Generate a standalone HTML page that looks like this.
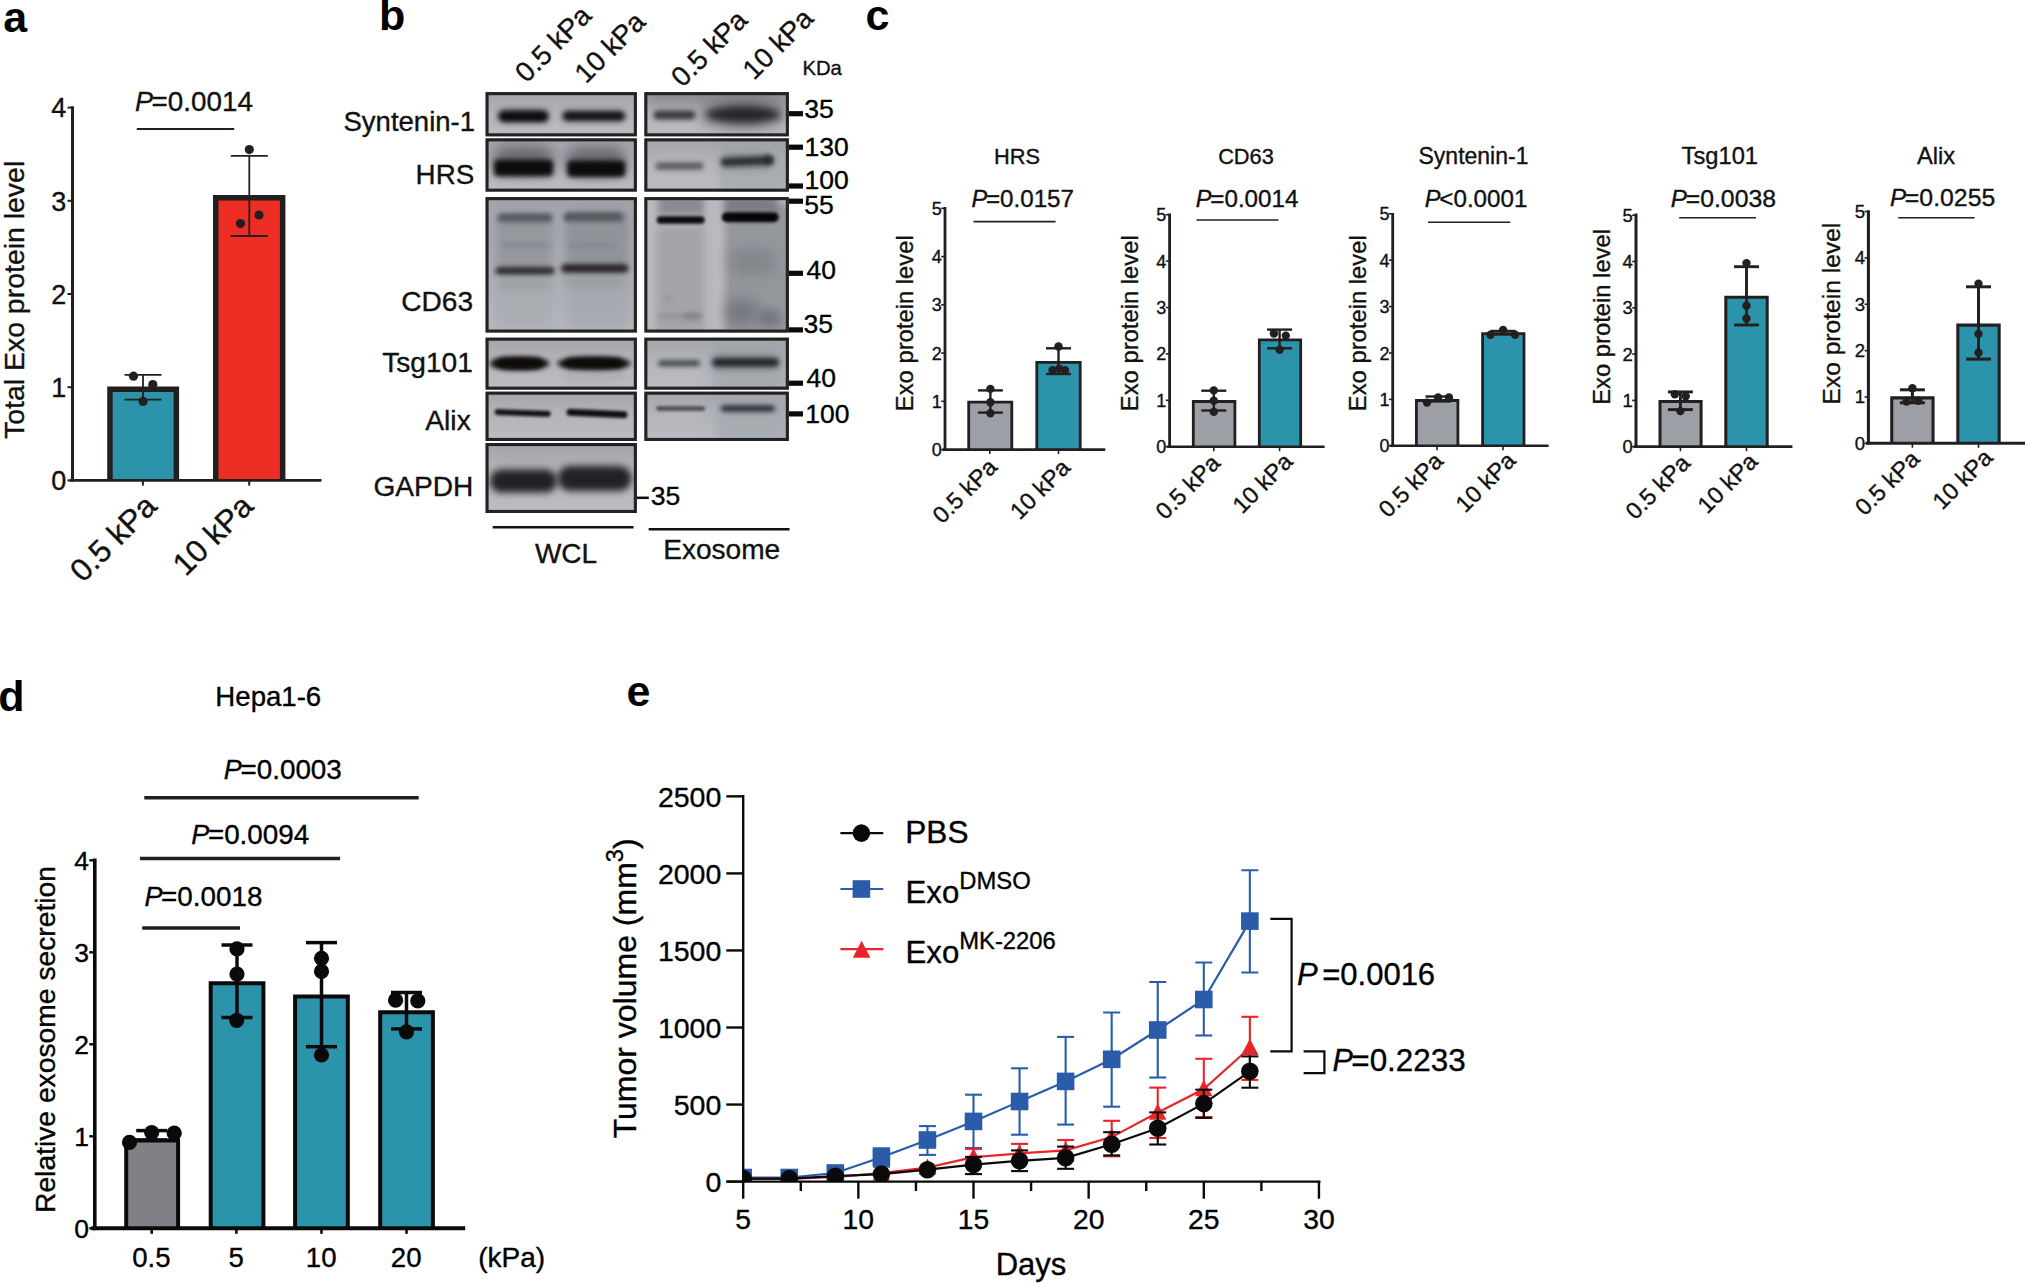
<!DOCTYPE html>
<html><head><meta charset="utf-8"><title>Figure</title>
<style>
html,body{margin:0;padding:0;background:#fff;}
body{width:2025px;height:1283px;overflow:hidden;}
svg{display:block;font-family:"Liberation Sans",sans-serif;}
</style></head><body>
<svg width="2025" height="1283" viewBox="0 0 2025 1283">
<rect width="2025" height="1283" fill="#fff"/>
<g id="pa">
<text x="3.2" y="31.5" font-size="43" text-anchor="start" fill="#000" font-weight="bold">a</text>
<path d="M109.95 480.4 V389.15 H176.35 V480.4" fill="#2b93aa" stroke="#231f20" stroke-width="5.5"/>
<path d="M215.75 480.4 V197.85 H282.65 V480.4" fill="#ee2e24" stroke="#231f20" stroke-width="5.5"/>
<line x1="72.5" y1="106.3" x2="72.5" y2="481.6" stroke="#231f20" stroke-width="3" stroke-linecap="butt"/>
<line x1="69.7" y1="480.4" x2="321.5" y2="480.4" stroke="#231f20" stroke-width="2.8" stroke-linecap="butt"/>
<line x1="67.5" y1="480.4" x2="72.5" y2="480.4" stroke="#231f20" stroke-width="2" stroke-linecap="butt"/>
<text x="66.3" y="490.1" font-size="27" text-anchor="end" fill="#111" stroke="#111" stroke-width="0.35">0</text>
<line x1="67.5" y1="387.2" x2="72.5" y2="387.2" stroke="#231f20" stroke-width="2" stroke-linecap="butt"/>
<text x="66.3" y="396.9" font-size="27" text-anchor="end" fill="#111" stroke="#111" stroke-width="0.35">1</text>
<line x1="67.5" y1="294" x2="72.5" y2="294" stroke="#231f20" stroke-width="2" stroke-linecap="butt"/>
<text x="66.3" y="303.7" font-size="27" text-anchor="end" fill="#111" stroke="#111" stroke-width="0.35">2</text>
<line x1="67.5" y1="200.8" x2="72.5" y2="200.8" stroke="#231f20" stroke-width="2" stroke-linecap="butt"/>
<text x="66.3" y="210.5" font-size="27" text-anchor="end" fill="#111" stroke="#111" stroke-width="0.35">3</text>
<line x1="67.5" y1="107.6" x2="72.5" y2="107.6" stroke="#231f20" stroke-width="2" stroke-linecap="butt"/>
<text x="66.3" y="117.3" font-size="27" text-anchor="end" fill="#111" stroke="#111" stroke-width="0.35">4</text>
<line x1="142.9" y1="480.4" x2="142.9" y2="485.6" stroke="#231f20" stroke-width="2" stroke-linecap="butt"/>
<line x1="249.2" y1="480.4" x2="249.2" y2="485.6" stroke="#231f20" stroke-width="2" stroke-linecap="butt"/>
<line x1="143" y1="374.8" x2="143" y2="399.7" stroke="#231f20" stroke-width="1.8" stroke-linecap="butt"/>
<line x1="124.5" y1="374.8" x2="161.5" y2="374.8" stroke="#231f20" stroke-width="1.8" stroke-linecap="butt"/>
<line x1="124.5" y1="399.7" x2="161.5" y2="399.7" stroke="#231f20" stroke-width="1.8" stroke-linecap="butt"/>
<line x1="249.3" y1="155.8" x2="249.3" y2="236" stroke="#231f20" stroke-width="1.8" stroke-linecap="butt"/>
<line x1="230.8" y1="155.8" x2="267.8" y2="155.8" stroke="#231f20" stroke-width="1.8" stroke-linecap="butt"/>
<line x1="230.8" y1="236" x2="267.8" y2="236" stroke="#231f20" stroke-width="1.8" stroke-linecap="butt"/>
<circle cx="133.5" cy="376.2" r="4.6" fill="#231f20"/>
<circle cx="152.8" cy="384.6" r="4.6" fill="#231f20"/>
<circle cx="143" cy="401.4" r="4.6" fill="#231f20"/>
<circle cx="249.3" cy="149.6" r="4.6" fill="#231f20"/>
<circle cx="259" cy="215" r="4.6" fill="#231f20"/>
<circle cx="240.5" cy="223.5" r="4.6" fill="#231f20"/>
<text x="136.3" y="110.8" font-size="27" text-anchor="start" fill="#111" stroke="#111" stroke-width="0.35"><tspan font-style="italic" dx="-0.05em" letter-spacing="-0.05em">P</tspan><tspan font-size="103%">=0.0014</tspan></text>
<line x1="136.8" y1="129" x2="234.2" y2="129" stroke="#231f20" stroke-width="2" stroke-linecap="butt"/>
<text x="23.8" y="299.9" font-size="28.45" text-anchor="middle" fill="#111" stroke="#111" stroke-width="0.35" transform="rotate(-90 23.8 299.9)">Total Exo protein level</text>
<text x="158.5" y="508" font-size="31.5" text-anchor="end" fill="#111" stroke="#111" stroke-width="0.35" transform="rotate(-45 158.5 508)">0.5 kPa</text>
<text x="255" y="508" font-size="31.5" text-anchor="end" fill="#111" stroke="#111" stroke-width="0.35" transform="rotate(-45 255 508)">10 kPa</text>
</g>
<g id="pb">
<defs>
<filter id="bl1" x="-30%" y="-200%" width="160%" height="500%" color-interpolation-filters="sRGB"><feGaussianBlur stdDeviation="1.5"/></filter>
<filter id="bl2" x="-30%" y="-200%" width="160%" height="500%" color-interpolation-filters="sRGB"><feGaussianBlur stdDeviation="2.4"/></filter>
<filter id="bl3" x="-40%" y="-200%" width="180%" height="500%" color-interpolation-filters="sRGB"><feGaussianBlur stdDeviation="3.8"/></filter>
<filter id="bl6" x="-50%" y="-200%" width="200%" height="500%" color-interpolation-filters="sRGB"><feGaussianBlur stdDeviation="7"/></filter>
<linearGradient id="bgv" x1="0" y1="0" x2="0" y2="1"><stop offset="0" stop-color="#a2a4aa"/><stop offset="0.45" stop-color="#b4b5bb"/><stop offset="1" stop-color="#bcbdc3"/></linearGradient>
<linearGradient id="bg3" x1="0" y1="0" x2="0" y2="1"><stop offset="0" stop-color="#a3a6ab"/><stop offset="0.55" stop-color="#aeb1b6"/><stop offset="1" stop-color="#bcbfc4"/></linearGradient>
</defs>
<text x="379" y="30.3" font-size="43" text-anchor="start" fill="#000" font-weight="bold">b</text>
<clipPath id="cp1"><rect x="485.5" y="92.1" width="151.4" height="44.3"/></clipPath>
<g clip-path="url(#cp1)">
<rect x="485.5" y="92.1" width="151.4" height="44.3" fill="url(#bgv)"/>
<rect x="497" y="108.8" width="53" height="14" rx="7" fill="#555" opacity="0.45" filter="url(#bl3)"/>
<rect x="498.5" y="110.45" width="50" height="11.5" rx="5.75" fill="#0c0b0d" opacity="1" filter="url(#bl2)"/>
<rect x="560.8" y="109.8" width="66" height="12" rx="6" fill="#555" opacity="0.4" filter="url(#bl3)"/>
<rect x="562.8" y="111.25" width="62" height="9.5" rx="4.75" fill="#121114" opacity="1" filter="url(#bl2)"/>
</g>
<rect x="487.05" y="93.65" width="148.3" height="41.2" fill="none" stroke="#232223" stroke-width="3.1"/>
<clipPath id="cp2"><rect x="644.3" y="92.1" width="144.6" height="44.3"/></clipPath>
<g clip-path="url(#cp2)">
<rect x="644.3" y="92.1" width="144.6" height="44.3" fill="url(#bgv)"/>
<rect x="653.4" y="110.5" width="42" height="9" rx="4.5" fill="#2a2a30" opacity="0.9" filter="url(#bl2)"/>
<rect x="644.3" y="86.1" width="144.6" height="17.9" fill="#6f7176" opacity="0.55" filter="url(#bl6)"/>
<ellipse cx="743" cy="114.5" rx="42" ry="13" fill="#45464c" opacity="0.7" filter="url(#bl6)"/>
<ellipse cx="743" cy="114.5" rx="37" ry="7.5" fill="#1b1b1f" opacity="0.85" filter="url(#bl3)"/>
</g>
<rect x="645.85" y="93.65" width="141.5" height="41.2" fill="none" stroke="#232223" stroke-width="3.1"/>
<clipPath id="cp3"><rect x="485.5" y="138.3" width="151.4" height="53.4"/></clipPath>
<g clip-path="url(#cp3)">
<rect x="485.5" y="138.3" width="151.4" height="53.4" fill="url(#bgv)"/>
<rect x="492.5" y="146" width="62" height="28" rx="14" fill="#4a4b51" opacity="0.7" filter="url(#bl6)"/>
<rect x="494" y="159.75" width="59" height="16.5" rx="4" fill="#0c0b0d" opacity="1" filter="url(#bl2)"/>
<rect x="565.2" y="147" width="62" height="28" rx="14" fill="#4a4b51" opacity="0.7" filter="url(#bl6)"/>
<rect x="567.2" y="160.55" width="58" height="16.5" rx="4" fill="#0c0b0d" opacity="1" filter="url(#bl2)"/>
</g>
<rect x="487.05" y="139.85" width="148.3" height="50.3" fill="none" stroke="#232223" stroke-width="3.1"/>
<clipPath id="cp4"><rect x="644.3" y="138.3" width="144.6" height="53.4"/></clipPath>
<g clip-path="url(#cp4)">
<rect x="644.3" y="138.3" width="144.6" height="53.4" fill="url(#bgv)"/>
<rect x="720" y="138.3" width="68.9" height="53.4" fill="#99a3a5" opacity="0.55" filter="url(#bl3)"/>
<rect x="655.5" y="162.5" width="48" height="7" rx="3.5" fill="#45454b" opacity="0.85" filter="url(#bl2)"/>
<rect x="720.3" y="154.5" width="52" height="14" rx="7" fill="#5a5f63" opacity="0.45" filter="url(#bl3)"/>
<rect x="721" y="157.2" width="53" height="8" rx="4" fill="#202024" opacity="0.9" filter="url(#bl2)" transform="rotate(-2.5 747.5 161.2)"/>
<ellipse cx="768" cy="160" rx="4" ry="5" fill="#1d1d21" opacity="0.6" filter="url(#bl2)"/>
</g>
<rect x="645.85" y="139.85" width="141.5" height="50.3" fill="none" stroke="#232223" stroke-width="3.1"/>
<clipPath id="cp5"><rect x="485.5" y="197.1" width="151.4" height="135.5"/></clipPath>
<g clip-path="url(#cp5)">
<rect x="485.5" y="197.1" width="151.4" height="135.5" fill="url(#bg3)"/>
<rect x="492" y="197.1" width="63" height="135.5" fill="#9da0a6" opacity="0.5" filter="url(#bl6)"/>
<rect x="565" y="197.1" width="67" height="135.5" fill="#9a9da3" opacity="0.55" filter="url(#bl6)"/>
<rect x="498" y="214.1" width="54" height="8" rx="4" fill="#33383d" opacity="0.9" filter="url(#bl2)"/>
<rect x="564.3" y="212.95" width="59" height="8.5" rx="4.25" fill="#2c3136" opacity="0.93" filter="url(#bl2)"/>
<rect x="501" y="242.8" width="48" height="5" rx="2.5" fill="#7d8086" opacity="0.6" filter="url(#bl2)"/>
<rect x="568" y="242.8" width="48" height="5" rx="2.5" fill="#7d8086" opacity="0.5" filter="url(#bl2)"/>
<rect x="497" y="214" width="55" height="60" fill="#80848a" opacity="0.4" filter="url(#bl3)"/>
<rect x="566" y="212" width="62" height="60" fill="#7c8086" opacity="0.45" filter="url(#bl3)"/>
<rect x="495.5" y="267.3" width="59" height="7" rx="3.5" fill="#231e21" opacity="0.95" filter="url(#bl2)"/>
<rect x="561.1" y="264.3" width="67" height="8.2" rx="4.1" fill="#201b1e" opacity="0.96" filter="url(#bl2)"/>
<rect x="500" y="280" width="50" height="8" rx="4" fill="#8d9096" opacity="0.45" filter="url(#bl3)"/>
<rect x="565" y="278" width="58" height="8" rx="4" fill="#8d9096" opacity="0.45" filter="url(#bl3)"/>
</g>
<rect x="487.05" y="198.65" width="148.3" height="132.4" fill="none" stroke="#232223" stroke-width="3.1"/>
<clipPath id="cp6"><rect x="644.3" y="197.1" width="144.6" height="135.5"/></clipPath>
<g clip-path="url(#cp6)">
<rect x="644.3" y="197.1" width="144.6" height="135.5" fill="#b9babf"/>
<rect x="656" y="226" width="49" height="114.6" fill="#8e8f95" opacity="0.48" filter="url(#bl3)"/>
<rect x="725" y="205" width="67" height="135.6" fill="#7f8287" opacity="0.62" filter="url(#bl3)"/>
<rect x="658" y="193.1" width="46" height="21.9" fill="#77787e" opacity="0.7" filter="url(#bl3)"/>
<rect x="724" y="193.1" width="54" height="18.9" fill="#6a6b70" opacity="0.7" filter="url(#bl3)"/>
<rect x="656.7" y="216.25" width="48" height="7.5" rx="3.75" fill="#0c0b0d" opacity="1" filter="url(#bl1)"/>
<rect x="721.7" y="212.2" width="57" height="10" rx="5" fill="#060607" opacity="1" filter="url(#bl1)"/>
<ellipse cx="752" cy="262" rx="24" ry="14" fill="#6d7075" opacity="0.45" filter="url(#bl6)"/>
<ellipse cx="742" cy="312" rx="18" ry="14" fill="#5f6267" opacity="0.55" filter="url(#bl6)"/>
<ellipse cx="770" cy="318" rx="12" ry="10" fill="#5f6267" opacity="0.5" filter="url(#bl3)"/>
<rect x="658" y="313.65" width="44" height="5.5" rx="2.75" fill="#8a8b91" opacity="0.6" filter="url(#bl2)"/>
<ellipse cx="692" cy="316" rx="9" ry="4" fill="#77787e" opacity="0.6" filter="url(#bl2)"/>
<ellipse cx="668" cy="298" rx="4" ry="3" fill="#8a8b90" opacity="0.6" filter="url(#bl2)"/>
</g>
<rect x="645.85" y="198.65" width="141.5" height="132.4" fill="none" stroke="#232223" stroke-width="3.1"/>
<clipPath id="cp7"><rect x="485.5" y="337.6" width="151.4" height="52.1"/></clipPath>
<g clip-path="url(#cp7)">
<rect x="485.5" y="337.6" width="151.4" height="52.1" fill="url(#bgv)"/>
<ellipse cx="519.5" cy="363.4" rx="30" ry="6.6" fill="#0f0b0b" opacity="1" filter="url(#bl2)"/>
<rect x="496.5" y="358.4" width="46" height="10" rx="5" fill="#0f0b0b" opacity="1" filter="url(#bl2)"/>
<ellipse cx="594" cy="363.4" rx="37" ry="6.6" fill="#0f0b0b" opacity="1" filter="url(#bl2)"/>
<rect x="565" y="358.4" width="58" height="10" rx="5" fill="#0f0b0b" opacity="1" filter="url(#bl2)"/>
<rect x="564" y="372" width="60" height="8" rx="4" fill="#9ea4a8" opacity="0.5" filter="url(#bl3)"/>
</g>
<rect x="487.05" y="339.15" width="148.3" height="49" fill="none" stroke="#232223" stroke-width="3.1"/>
<clipPath id="cp8"><rect x="644.3" y="337.6" width="144.6" height="52.1"/></clipPath>
<g clip-path="url(#cp8)">
<rect x="644.3" y="337.6" width="144.6" height="52.1" fill="url(#bgv)"/>
<rect x="712" y="345" width="76.9" height="50.7" fill="#98a0a3" opacity="0.6" filter="url(#bl6)"/>
<rect x="658.1" y="360.45" width="42" height="5.5" rx="2.75" fill="#33373b" opacity="0.95" filter="url(#bl2)"/>
<rect x="711.5" y="355.4" width="68" height="14" rx="7" fill="#5a5f63" opacity="0.5" filter="url(#bl3)"/>
<rect x="712.5" y="358.5" width="66" height="7.8" rx="3.9" fill="#1d2024" opacity="1" filter="url(#bl2)"/>
</g>
<rect x="645.85" y="339.15" width="141.5" height="49" fill="none" stroke="#232223" stroke-width="3.1"/>
<clipPath id="cp9"><rect x="485.5" y="391.6" width="151.4" height="49.4"/></clipPath>
<g clip-path="url(#cp9)">
<rect x="485.5" y="391.6" width="151.4" height="49.4" fill="url(#bgv)"/>
<rect x="494.7" y="410" width="56" height="6" rx="3" fill="#131316" opacity="1" filter="url(#bl1)" transform="rotate(2 522.7 413)"/>
<rect x="566.5" y="410" width="61" height="7" rx="3.5" fill="#101013" opacity="1" filter="url(#bl1)" transform="rotate(2.5 597 413.5)"/>
</g>
<rect x="487.05" y="393.15" width="148.3" height="46.3" fill="none" stroke="#232223" stroke-width="3.1"/>
<clipPath id="cp10"><rect x="644.3" y="391.6" width="144.6" height="49.4"/></clipPath>
<g clip-path="url(#cp10)">
<rect x="644.3" y="391.6" width="144.6" height="49.4" fill="url(#bgv)"/>
<rect x="716" y="400" width="72.9" height="47" fill="#9ba4a7" opacity="0.6" filter="url(#bl6)"/>
<rect x="656.2" y="406.25" width="49" height="4.5" rx="2.25" fill="#3d4045" opacity="0.9" filter="url(#bl1)"/>
<rect x="720.9" y="405.4" width="54" height="6" rx="3" fill="#20242a" opacity="1" filter="url(#bl2)"/>
</g>
<rect x="645.85" y="393.15" width="141.5" height="46.3" fill="none" stroke="#232223" stroke-width="3.1"/>
<clipPath id="cp11"><rect x="485.5" y="443" width="151.4" height="70"/></clipPath>
<g clip-path="url(#cp11)">
<rect x="485.5" y="443" width="151.4" height="70" fill="url(#bgv)"/>
<rect x="490" y="469.5" width="67" height="23" rx="11.5" fill="#1c1d21" opacity="0.97" filter="url(#bl3)"/>
<rect x="557.6" y="466" width="74" height="25" rx="12.5" fill="#1c1d21" opacity="0.97" filter="url(#bl3)"/>
</g>
<rect x="487.05" y="444.55" width="148.3" height="66.9" fill="none" stroke="#232223" stroke-width="3.1"/>
<line x1="492.7" y1="527.2" x2="633.5" y2="527.2" stroke="#111" stroke-width="2.6" stroke-linecap="butt"/>
<line x1="648.7" y1="529.3" x2="789.5" y2="529.3" stroke="#111" stroke-width="2.6" stroke-linecap="butt"/>
<text x="566" y="562.7" font-size="28" text-anchor="middle" fill="#111" stroke="#111" stroke-width="0.35">WCL</text>
<text x="721.7" y="558.7" font-size="28.1" text-anchor="middle" fill="#111" stroke="#111" stroke-width="0.35">Exosome</text>
<text x="475" y="130.7" font-size="27.5" text-anchor="end" fill="#111" stroke="#111" stroke-width="0.35">Syntenin-1</text>
<text x="474.3" y="184" font-size="27.8" text-anchor="end" fill="#111" stroke="#111" stroke-width="0.35">HRS</text>
<text x="473.1" y="310.7" font-size="28.1" text-anchor="end" fill="#111" stroke="#111" stroke-width="0.35">CD63</text>
<text x="472.8" y="372" font-size="28.1" text-anchor="end" fill="#111" stroke="#111" stroke-width="0.35">Tsg101</text>
<text x="470.8" y="430.1" font-size="28.3" text-anchor="end" fill="#111" stroke="#111" stroke-width="0.35">Alix</text>
<text x="473.3" y="496" font-size="28.1" text-anchor="end" fill="#111" stroke="#111" stroke-width="0.35">GAPDH</text>
<text x="593" y="17.3" font-size="27.7" text-anchor="end" fill="#111" stroke="#111" stroke-width="0.35" transform="rotate(-45 593 17.3)">0.5 kPa</text>
<text x="647" y="23.5" font-size="27.7" text-anchor="end" fill="#111" stroke="#111" stroke-width="0.35" transform="rotate(-45 647 23.5)">10 kPa</text>
<text x="749" y="21.8" font-size="27.7" text-anchor="end" fill="#111" stroke="#111" stroke-width="0.35" transform="rotate(-45 749 21.8)">0.5 kPa</text>
<text x="815" y="20" font-size="27.7" text-anchor="end" fill="#111" stroke="#111" stroke-width="0.35" transform="rotate(-45 815 20)">10 kPa</text>
<text x="802.4" y="74.6" font-size="20.3" text-anchor="start" fill="#111" stroke="#111" stroke-width="0.35">KDa</text>
<line x1="789" y1="113.7" x2="803" y2="113.7" stroke="#0a0a0a" stroke-width="5.2" stroke-linecap="butt"/>
<text x="804.3" y="118.2" font-size="26.5" text-anchor="start" fill="#000" stroke="#000" stroke-width="0.35">35</text>
<line x1="789" y1="147.2" x2="803" y2="147.2" stroke="#0a0a0a" stroke-width="5.2" stroke-linecap="butt"/>
<text x="804.6" y="156" font-size="26.5" text-anchor="start" fill="#000" stroke="#000" stroke-width="0.35">130</text>
<line x1="789" y1="186" x2="803" y2="186" stroke="#0a0a0a" stroke-width="5.2" stroke-linecap="butt"/>
<text x="804.6" y="189.1" font-size="26.5" text-anchor="start" fill="#000" stroke="#000" stroke-width="0.35">100</text>
<line x1="789" y1="201.2" x2="803" y2="201.2" stroke="#0a0a0a" stroke-width="5.2" stroke-linecap="butt"/>
<text x="804.3" y="214.1" font-size="26.5" text-anchor="start" fill="#000" stroke="#000" stroke-width="0.35">55</text>
<line x1="789" y1="273.3" x2="803" y2="273.3" stroke="#0a0a0a" stroke-width="5.2" stroke-linecap="butt"/>
<text x="806.6" y="278.7" font-size="26.5" text-anchor="start" fill="#000" stroke="#000" stroke-width="0.35">40</text>
<line x1="789" y1="329.9" x2="803" y2="329.9" stroke="#0a0a0a" stroke-width="5.2" stroke-linecap="butt"/>
<text x="803.6" y="333.3" font-size="26.5" text-anchor="start" fill="#000" stroke="#000" stroke-width="0.35">35</text>
<line x1="789" y1="383.2" x2="803" y2="383.2" stroke="#0a0a0a" stroke-width="5.2" stroke-linecap="butt"/>
<text x="806.6" y="386.7" font-size="26.5" text-anchor="start" fill="#000" stroke="#000" stroke-width="0.35">40</text>
<line x1="789" y1="413.9" x2="803" y2="413.9" stroke="#0a0a0a" stroke-width="5.2" stroke-linecap="butt"/>
<text x="805.2" y="422.7" font-size="26.5" text-anchor="start" fill="#000" stroke="#000" stroke-width="0.35">100</text>
<line x1="636.9" y1="497.8" x2="648.8" y2="497.8" stroke="#0a0a0a" stroke-width="2.5" stroke-linecap="butt"/>
<text x="650.7" y="504.6" font-size="26.5" text-anchor="start" fill="#000" stroke="#000" stroke-width="0.35">35</text>
</g>
<g id="pc">
<text x="865.5" y="29.6" font-size="43" text-anchor="start" fill="#000" font-weight="bold">c</text>
<path d="M968.7 449.6 V402.1 H1011.8 V449.6" fill="#9d9fa7" stroke="#231f20" stroke-width="2.8"/>
<path d="M1036.8 449.6 V362.4 H1080.2 V449.6" fill="#2b93aa" stroke="#231f20" stroke-width="2.8"/>
<line x1="945" y1="207" x2="945" y2="450.9" stroke="#231f20" stroke-width="2.8" stroke-linecap="butt"/>
<line x1="942.5" y1="449.6" x2="1105.3" y2="449.6" stroke="#231f20" stroke-width="2.6" stroke-linecap="butt"/>
<line x1="941.2" y1="449.6" x2="945" y2="449.6" stroke="#231f20" stroke-width="1.6" stroke-linecap="butt"/>
<text x="941.7" y="456.1" font-size="18" text-anchor="end" fill="#111" stroke="#111" stroke-width="0.35">0</text>
<line x1="941.2" y1="401.35" x2="945" y2="401.35" stroke="#231f20" stroke-width="1.6" stroke-linecap="butt"/>
<text x="941.7" y="407.85" font-size="18" text-anchor="end" fill="#111" stroke="#111" stroke-width="0.35">1</text>
<line x1="941.2" y1="353.1" x2="945" y2="353.1" stroke="#231f20" stroke-width="1.6" stroke-linecap="butt"/>
<text x="941.7" y="359.6" font-size="18" text-anchor="end" fill="#111" stroke="#111" stroke-width="0.35">2</text>
<line x1="941.2" y1="304.85" x2="945" y2="304.85" stroke="#231f20" stroke-width="1.6" stroke-linecap="butt"/>
<text x="941.7" y="311.35" font-size="18" text-anchor="end" fill="#111" stroke="#111" stroke-width="0.35">3</text>
<line x1="941.2" y1="256.6" x2="945" y2="256.6" stroke="#231f20" stroke-width="1.6" stroke-linecap="butt"/>
<text x="941.7" y="263.1" font-size="18" text-anchor="end" fill="#111" stroke="#111" stroke-width="0.35">4</text>
<line x1="941.2" y1="208.35" x2="945" y2="208.35" stroke="#231f20" stroke-width="1.6" stroke-linecap="butt"/>
<text x="941.7" y="214.85" font-size="18" text-anchor="end" fill="#111" stroke="#111" stroke-width="0.35">5</text>
<line x1="989.8" y1="449.6" x2="989.8" y2="454.1" stroke="#231f20" stroke-width="1.6" stroke-linecap="butt"/>
<line x1="1058.5" y1="449.6" x2="1058.5" y2="454.1" stroke="#231f20" stroke-width="1.6" stroke-linecap="butt"/>
<line x1="990.4" y1="390.4" x2="990.4" y2="412.6" stroke="#231f20" stroke-width="2.4" stroke-linecap="butt"/>
<line x1="977.9" y1="390.4" x2="1002.9" y2="390.4" stroke="#231f20" stroke-width="2.4" stroke-linecap="butt"/>
<line x1="977.9" y1="412.6" x2="1002.9" y2="412.6" stroke="#231f20" stroke-width="2.4" stroke-linecap="butt"/>
<line x1="1058.5" y1="348.3" x2="1058.5" y2="374" stroke="#231f20" stroke-width="2.4" stroke-linecap="butt"/>
<line x1="1046" y1="348.3" x2="1071" y2="348.3" stroke="#231f20" stroke-width="2.4" stroke-linecap="butt"/>
<line x1="1046" y1="374" x2="1071" y2="374" stroke="#231f20" stroke-width="2.4" stroke-linecap="butt"/>
<circle cx="990.4" cy="388.9" r="4.2" fill="#231f20"/>
<circle cx="990.4" cy="402.2" r="4.2" fill="#231f20"/>
<circle cx="990.4" cy="413.2" r="4.2" fill="#231f20"/>
<circle cx="1058.5" cy="346.5" r="4.2" fill="#231f20"/>
<circle cx="1052.6" cy="370.2" r="4.2" fill="#231f20"/>
<circle cx="1059.1" cy="368.7" r="4.2" fill="#231f20"/>
<circle cx="1065" cy="370.2" r="4.2" fill="#231f20"/>
<text x="1017" y="164.4" font-size="21.8" text-anchor="middle" fill="#111" stroke="#111" stroke-width="0.35">HRS</text>
<text x="972.6" y="206.5" font-size="23.5" text-anchor="start" fill="#111" stroke="#111" stroke-width="0.35"><tspan font-style="italic" dx="-0.05em" letter-spacing="-0.05em">P</tspan><tspan font-size="103%">=0.0157</tspan></text>
<line x1="973.5" y1="221.6" x2="1055.6" y2="221.6" stroke="#231f20" stroke-width="1.6" stroke-linecap="butt"/>
<text x="913.3" y="323.2" font-size="23.8" text-anchor="middle" fill="#111" stroke="#111" stroke-width="0.35" transform="rotate(-90 913.3 323.2)">Exo protein level</text>
<text x="998.5" y="468.5" font-size="23.5" text-anchor="end" fill="#111" stroke="#111" stroke-width="0.35" transform="rotate(-45 998.5 468.5)">0.5 kPa</text>
<text x="1071.5" y="469" font-size="23.5" text-anchor="end" fill="#111" stroke="#111" stroke-width="0.35" transform="rotate(-45 1071.5 469)">10 kPa</text>
<path d="M1193.3 446.7 V401.5 H1234.9 V446.7" fill="#9d9fa7" stroke="#231f20" stroke-width="2.8"/>
<path d="M1259.3 446.7 V339.9 H1300.7 V446.7" fill="#2b93aa" stroke="#231f20" stroke-width="2.8"/>
<line x1="1169.6" y1="213.5" x2="1169.6" y2="448" stroke="#231f20" stroke-width="2.8" stroke-linecap="butt"/>
<line x1="1167.1" y1="446.7" x2="1324.6" y2="446.7" stroke="#231f20" stroke-width="2.6" stroke-linecap="butt"/>
<line x1="1165.8" y1="446.7" x2="1169.6" y2="446.7" stroke="#231f20" stroke-width="1.6" stroke-linecap="butt"/>
<text x="1166.3" y="453.2" font-size="18" text-anchor="end" fill="#111" stroke="#111" stroke-width="0.35">0</text>
<line x1="1165.8" y1="400.3" x2="1169.6" y2="400.3" stroke="#231f20" stroke-width="1.6" stroke-linecap="butt"/>
<text x="1166.3" y="406.8" font-size="18" text-anchor="end" fill="#111" stroke="#111" stroke-width="0.35">1</text>
<line x1="1165.8" y1="353.9" x2="1169.6" y2="353.9" stroke="#231f20" stroke-width="1.6" stroke-linecap="butt"/>
<text x="1166.3" y="360.4" font-size="18" text-anchor="end" fill="#111" stroke="#111" stroke-width="0.35">2</text>
<line x1="1165.8" y1="307.5" x2="1169.6" y2="307.5" stroke="#231f20" stroke-width="1.6" stroke-linecap="butt"/>
<text x="1166.3" y="314" font-size="18" text-anchor="end" fill="#111" stroke="#111" stroke-width="0.35">3</text>
<line x1="1165.8" y1="261.1" x2="1169.6" y2="261.1" stroke="#231f20" stroke-width="1.6" stroke-linecap="butt"/>
<text x="1166.3" y="267.6" font-size="18" text-anchor="end" fill="#111" stroke="#111" stroke-width="0.35">4</text>
<line x1="1165.8" y1="214.7" x2="1169.6" y2="214.7" stroke="#231f20" stroke-width="1.6" stroke-linecap="butt"/>
<text x="1166.3" y="221.2" font-size="18" text-anchor="end" fill="#111" stroke="#111" stroke-width="0.35">5</text>
<line x1="1213.8" y1="446.7" x2="1213.8" y2="451.2" stroke="#231f20" stroke-width="1.6" stroke-linecap="butt"/>
<line x1="1279.6" y1="446.7" x2="1279.6" y2="451.2" stroke="#231f20" stroke-width="1.6" stroke-linecap="butt"/>
<line x1="1213.8" y1="390.7" x2="1213.8" y2="410.5" stroke="#231f20" stroke-width="2.4" stroke-linecap="butt"/>
<line x1="1201.3" y1="390.7" x2="1226.3" y2="390.7" stroke="#231f20" stroke-width="2.4" stroke-linecap="butt"/>
<line x1="1201.3" y1="410.5" x2="1226.3" y2="410.5" stroke="#231f20" stroke-width="2.4" stroke-linecap="butt"/>
<line x1="1279.6" y1="329.6" x2="1279.6" y2="348.3" stroke="#231f20" stroke-width="2.4" stroke-linecap="butt"/>
<line x1="1267.1" y1="329.6" x2="1292.1" y2="329.6" stroke="#231f20" stroke-width="2.4" stroke-linecap="butt"/>
<line x1="1267.1" y1="348.3" x2="1292.1" y2="348.3" stroke="#231f20" stroke-width="2.4" stroke-linecap="butt"/>
<circle cx="1213.8" cy="390.4" r="4.2" fill="#231f20"/>
<circle cx="1213.8" cy="400.7" r="4.2" fill="#231f20"/>
<circle cx="1213.8" cy="411.7" r="4.2" fill="#231f20"/>
<circle cx="1273.9" cy="333.5" r="4.2" fill="#231f20"/>
<circle cx="1285.8" cy="335.6" r="4.2" fill="#231f20"/>
<circle cx="1279.6" cy="349.8" r="4.2" fill="#231f20"/>
<text x="1246" y="164.4" font-size="21.8" text-anchor="middle" fill="#111" stroke="#111" stroke-width="0.35">CD63</text>
<text x="1197" y="206.5" font-size="23.5" text-anchor="start" fill="#111" stroke="#111" stroke-width="0.35"><tspan font-style="italic" dx="-0.05em" letter-spacing="-0.05em">P</tspan><tspan font-size="103%">=0.0014</tspan></text>
<line x1="1196.5" y1="220" x2="1278.5" y2="220" stroke="#231f20" stroke-width="1.6" stroke-linecap="butt"/>
<text x="1138" y="323.2" font-size="23.8" text-anchor="middle" fill="#111" stroke="#111" stroke-width="0.35" transform="rotate(-90 1138 323.2)">Exo protein level</text>
<text x="1221.5" y="464.5" font-size="23.5" text-anchor="end" fill="#111" stroke="#111" stroke-width="0.35" transform="rotate(-45 1221.5 464.5)">0.5 kPa</text>
<text x="1294" y="463" font-size="23.5" text-anchor="end" fill="#111" stroke="#111" stroke-width="0.35" transform="rotate(-45 1294 463)">10 kPa</text>
<path d="M1416.4 445.8 V400.5 H1457.9 V445.8" fill="#9d9fa7" stroke="#231f20" stroke-width="2.8"/>
<path d="M1482.6 445.8 V333.7 H1524 V445.8" fill="#2b93aa" stroke="#231f20" stroke-width="2.8"/>
<line x1="1392.7" y1="213" x2="1392.7" y2="447.1" stroke="#231f20" stroke-width="2.8" stroke-linecap="butt"/>
<line x1="1390.2" y1="445.8" x2="1548.6" y2="445.8" stroke="#231f20" stroke-width="2.6" stroke-linecap="butt"/>
<line x1="1388.9" y1="445.8" x2="1392.7" y2="445.8" stroke="#231f20" stroke-width="1.6" stroke-linecap="butt"/>
<text x="1389.4" y="452.3" font-size="18" text-anchor="end" fill="#111" stroke="#111" stroke-width="0.35">0</text>
<line x1="1388.9" y1="399.4" x2="1392.7" y2="399.4" stroke="#231f20" stroke-width="1.6" stroke-linecap="butt"/>
<text x="1389.4" y="405.9" font-size="18" text-anchor="end" fill="#111" stroke="#111" stroke-width="0.35">1</text>
<line x1="1388.9" y1="353" x2="1392.7" y2="353" stroke="#231f20" stroke-width="1.6" stroke-linecap="butt"/>
<text x="1389.4" y="359.5" font-size="18" text-anchor="end" fill="#111" stroke="#111" stroke-width="0.35">2</text>
<line x1="1388.9" y1="306.6" x2="1392.7" y2="306.6" stroke="#231f20" stroke-width="1.6" stroke-linecap="butt"/>
<text x="1389.4" y="313.1" font-size="18" text-anchor="end" fill="#111" stroke="#111" stroke-width="0.35">3</text>
<line x1="1388.9" y1="260.2" x2="1392.7" y2="260.2" stroke="#231f20" stroke-width="1.6" stroke-linecap="butt"/>
<text x="1389.4" y="266.7" font-size="18" text-anchor="end" fill="#111" stroke="#111" stroke-width="0.35">4</text>
<line x1="1388.9" y1="213.8" x2="1392.7" y2="213.8" stroke="#231f20" stroke-width="1.6" stroke-linecap="butt"/>
<text x="1389.4" y="220.3" font-size="18" text-anchor="end" fill="#111" stroke="#111" stroke-width="0.35">5</text>
<line x1="1437" y1="445.8" x2="1437" y2="450.3" stroke="#231f20" stroke-width="1.6" stroke-linecap="butt"/>
<line x1="1503" y1="445.8" x2="1503" y2="450.3" stroke="#231f20" stroke-width="1.6" stroke-linecap="butt"/>
<line x1="1438" y1="396.5" x2="1438" y2="401.5" stroke="#231f20" stroke-width="2.4" stroke-linecap="butt"/>
<line x1="1425.5" y1="396.5" x2="1450.5" y2="396.5" stroke="#231f20" stroke-width="2.4" stroke-linecap="butt"/>
<line x1="1425.5" y1="401.5" x2="1450.5" y2="401.5" stroke="#231f20" stroke-width="2.4" stroke-linecap="butt"/>
<line x1="1503" y1="331" x2="1503" y2="334.5" stroke="#231f20" stroke-width="2.4" stroke-linecap="butt"/>
<line x1="1490.5" y1="331" x2="1515.5" y2="331" stroke="#231f20" stroke-width="2.4" stroke-linecap="butt"/>
<line x1="1490.5" y1="334.5" x2="1515.5" y2="334.5" stroke="#231f20" stroke-width="2.4" stroke-linecap="butt"/>
<circle cx="1427" cy="402.6" r="4.2" fill="#231f20"/>
<circle cx="1438" cy="397.4" r="4.2" fill="#231f20"/>
<circle cx="1449" cy="397.4" r="4.2" fill="#231f20"/>
<circle cx="1490.5" cy="334.7" r="4.2" fill="#231f20"/>
<circle cx="1503.1" cy="329.9" r="4.2" fill="#231f20"/>
<circle cx="1515.1" cy="334.7" r="4.2" fill="#231f20"/>
<text x="1473.5" y="164.4" font-size="23" text-anchor="middle" fill="#111" stroke="#111" stroke-width="0.35">Syntenin-1</text>
<text x="1426" y="206.5" font-size="23.5" text-anchor="start" fill="#111" stroke="#111" stroke-width="0.35"><tspan font-style="italic" dx="-0.05em" letter-spacing="-0.05em">P</tspan><tspan font-size="103%">&lt;0.0001</tspan></text>
<line x1="1428" y1="222.2" x2="1510.3" y2="222.2" stroke="#231f20" stroke-width="1.6" stroke-linecap="butt"/>
<text x="1366" y="323.2" font-size="23.8" text-anchor="middle" fill="#111" stroke="#111" stroke-width="0.35" transform="rotate(-90 1366 323.2)">Exo protein level</text>
<text x="1444.5" y="462.5" font-size="23.5" text-anchor="end" fill="#111" stroke="#111" stroke-width="0.35" transform="rotate(-45 1444.5 462.5)">0.5 kPa</text>
<text x="1517" y="462" font-size="23.5" text-anchor="end" fill="#111" stroke="#111" stroke-width="0.35" transform="rotate(-45 1517 462)">10 kPa</text>
<path d="M1660.01 446.7 V401.61 H1701.09 V446.7" fill="#9d9fa7" stroke="#231f20" stroke-width="3.02"/>
<path d="M1725.81 446.7 V297.21 H1767.19 V446.7" fill="#2b93aa" stroke="#231f20" stroke-width="3.02"/>
<line x1="1636" y1="213.5" x2="1636" y2="448" stroke="#231f20" stroke-width="3.02" stroke-linecap="butt"/>
<line x1="1633.5" y1="446.7" x2="1792.4" y2="446.7" stroke="#231f20" stroke-width="2.81" stroke-linecap="butt"/>
<line x1="1632.2" y1="446.7" x2="1636" y2="446.7" stroke="#231f20" stroke-width="1.6" stroke-linecap="butt"/>
<text x="1632.7" y="453.2" font-size="18.48" text-anchor="end" fill="#111" stroke="#111" stroke-width="0.35">0</text>
<line x1="1632.2" y1="400.4" x2="1636" y2="400.4" stroke="#231f20" stroke-width="1.6" stroke-linecap="butt"/>
<text x="1632.7" y="406.9" font-size="18.48" text-anchor="end" fill="#111" stroke="#111" stroke-width="0.35">1</text>
<line x1="1632.2" y1="354.1" x2="1636" y2="354.1" stroke="#231f20" stroke-width="1.6" stroke-linecap="butt"/>
<text x="1632.7" y="360.6" font-size="18.48" text-anchor="end" fill="#111" stroke="#111" stroke-width="0.35">2</text>
<line x1="1632.2" y1="307.8" x2="1636" y2="307.8" stroke="#231f20" stroke-width="1.6" stroke-linecap="butt"/>
<text x="1632.7" y="314.3" font-size="18.48" text-anchor="end" fill="#111" stroke="#111" stroke-width="0.35">3</text>
<line x1="1632.2" y1="261.5" x2="1636" y2="261.5" stroke="#231f20" stroke-width="1.6" stroke-linecap="butt"/>
<text x="1632.7" y="268" font-size="18.48" text-anchor="end" fill="#111" stroke="#111" stroke-width="0.35">4</text>
<line x1="1632.2" y1="215.2" x2="1636" y2="215.2" stroke="#231f20" stroke-width="1.6" stroke-linecap="butt"/>
<text x="1632.7" y="221.7" font-size="18.48" text-anchor="end" fill="#111" stroke="#111" stroke-width="0.35">5</text>
<line x1="1680.4" y1="446.7" x2="1680.4" y2="451.2" stroke="#231f20" stroke-width="1.6" stroke-linecap="butt"/>
<line x1="1746.5" y1="446.7" x2="1746.5" y2="451.2" stroke="#231f20" stroke-width="1.6" stroke-linecap="butt"/>
<line x1="1680.4" y1="391.9" x2="1680.4" y2="409.6" stroke="#231f20" stroke-width="2.9" stroke-linecap="butt"/>
<line x1="1667.9" y1="391.9" x2="1692.9" y2="391.9" stroke="#231f20" stroke-width="2.9" stroke-linecap="butt"/>
<line x1="1667.9" y1="409.6" x2="1692.9" y2="409.6" stroke="#231f20" stroke-width="2.9" stroke-linecap="butt"/>
<line x1="1746.5" y1="266.7" x2="1746.5" y2="325" stroke="#231f20" stroke-width="2.9" stroke-linecap="butt"/>
<line x1="1734" y1="266.7" x2="1759" y2="266.7" stroke="#231f20" stroke-width="2.9" stroke-linecap="butt"/>
<line x1="1734" y1="325" x2="1759" y2="325" stroke="#231f20" stroke-width="2.9" stroke-linecap="butt"/>
<circle cx="1674.8" cy="394.2" r="4.2" fill="#231f20"/>
<circle cx="1685.7" cy="396.3" r="4.2" fill="#231f20"/>
<circle cx="1680.4" cy="411.1" r="4.2" fill="#231f20"/>
<circle cx="1746.5" cy="263.1" r="4.2" fill="#231f20"/>
<circle cx="1746.5" cy="305.8" r="4.2" fill="#231f20"/>
<circle cx="1746.5" cy="318.5" r="4.2" fill="#231f20"/>
<text x="1719.8" y="164.4" font-size="23.7" text-anchor="middle" fill="#111" stroke="#111" stroke-width="0.35">Tsg101</text>
<text x="1672" y="206.5" font-size="24.1" text-anchor="start" fill="#111" stroke="#111" stroke-width="0.35"><tspan font-style="italic" dx="-0.05em" letter-spacing="-0.05em">P</tspan><tspan font-size="103%">=0.0038</tspan></text>
<line x1="1679.2" y1="217.8" x2="1756" y2="217.8" stroke="#231f20" stroke-width="1.6" stroke-linecap="butt"/>
<text x="1610" y="316.9" font-size="23.8" text-anchor="middle" fill="#111" stroke="#111" stroke-width="0.35" transform="rotate(-90 1610 316.9)">Exo protein level</text>
<text x="1691.5" y="464.5" font-size="23.5" text-anchor="end" fill="#111" stroke="#111" stroke-width="0.35" transform="rotate(-45 1691.5 464.5)">0.5 kPa</text>
<text x="1759" y="463" font-size="23.5" text-anchor="end" fill="#111" stroke="#111" stroke-width="0.35" transform="rotate(-45 1759 463)">10 kPa</text>
<path d="M1891.74 443.3 V397.84 H1933.06 V443.3" fill="#9d9fa7" stroke="#231f20" stroke-width="3.08"/>
<path d="M1957.84 443.3 V325.14 H1999.16 V443.3" fill="#2b93aa" stroke="#231f20" stroke-width="3.08"/>
<line x1="1868.4" y1="210.3" x2="1868.4" y2="444.6" stroke="#231f20" stroke-width="3.08" stroke-linecap="butt"/>
<line x1="1865.9" y1="443.3" x2="2025" y2="443.3" stroke="#231f20" stroke-width="2.86" stroke-linecap="butt"/>
<line x1="1864.6" y1="443.3" x2="1868.4" y2="443.3" stroke="#231f20" stroke-width="1.6" stroke-linecap="butt"/>
<text x="1865.1" y="449.8" font-size="18.6" text-anchor="end" fill="#111" stroke="#111" stroke-width="0.35">0</text>
<line x1="1864.6" y1="396.95" x2="1868.4" y2="396.95" stroke="#231f20" stroke-width="1.6" stroke-linecap="butt"/>
<text x="1865.1" y="403.45" font-size="18.6" text-anchor="end" fill="#111" stroke="#111" stroke-width="0.35">1</text>
<line x1="1864.6" y1="350.6" x2="1868.4" y2="350.6" stroke="#231f20" stroke-width="1.6" stroke-linecap="butt"/>
<text x="1865.1" y="357.1" font-size="18.6" text-anchor="end" fill="#111" stroke="#111" stroke-width="0.35">2</text>
<line x1="1864.6" y1="304.25" x2="1868.4" y2="304.25" stroke="#231f20" stroke-width="1.6" stroke-linecap="butt"/>
<text x="1865.1" y="310.75" font-size="18.6" text-anchor="end" fill="#111" stroke="#111" stroke-width="0.35">3</text>
<line x1="1864.6" y1="257.9" x2="1868.4" y2="257.9" stroke="#231f20" stroke-width="1.6" stroke-linecap="butt"/>
<text x="1865.1" y="264.4" font-size="18.6" text-anchor="end" fill="#111" stroke="#111" stroke-width="0.35">4</text>
<line x1="1864.6" y1="211.55" x2="1868.4" y2="211.55" stroke="#231f20" stroke-width="1.6" stroke-linecap="butt"/>
<text x="1865.1" y="218.05" font-size="18.6" text-anchor="end" fill="#111" stroke="#111" stroke-width="0.35">5</text>
<line x1="1912.4" y1="443.3" x2="1912.4" y2="447.8" stroke="#231f20" stroke-width="1.6" stroke-linecap="butt"/>
<line x1="1978.5" y1="443.3" x2="1978.5" y2="447.8" stroke="#231f20" stroke-width="1.6" stroke-linecap="butt"/>
<line x1="1912.4" y1="389.8" x2="1912.4" y2="402.8" stroke="#231f20" stroke-width="3" stroke-linecap="butt"/>
<line x1="1899.9" y1="389.8" x2="1924.9" y2="389.8" stroke="#231f20" stroke-width="3" stroke-linecap="butt"/>
<line x1="1899.9" y1="402.8" x2="1924.9" y2="402.8" stroke="#231f20" stroke-width="3" stroke-linecap="butt"/>
<line x1="1978.5" y1="286.8" x2="1978.5" y2="359.1" stroke="#231f20" stroke-width="3" stroke-linecap="butt"/>
<line x1="1966" y1="286.8" x2="1991" y2="286.8" stroke="#231f20" stroke-width="3" stroke-linecap="butt"/>
<line x1="1966" y1="359.1" x2="1991" y2="359.1" stroke="#231f20" stroke-width="3" stroke-linecap="butt"/>
<circle cx="1912.4" cy="388.3" r="4.2" fill="#231f20"/>
<circle cx="1906.5" cy="401.6" r="4.2" fill="#231f20"/>
<circle cx="1918.3" cy="400.7" r="4.2" fill="#231f20"/>
<circle cx="1978.5" cy="283.6" r="4.2" fill="#231f20"/>
<circle cx="1978.5" cy="333.9" r="4.2" fill="#231f20"/>
<circle cx="1978.5" cy="352.6" r="4.2" fill="#231f20"/>
<text x="1936" y="164.4" font-size="23.7" text-anchor="middle" fill="#111" stroke="#111" stroke-width="0.35">Alix</text>
<text x="1891.2" y="205.9" font-size="24.1" text-anchor="start" fill="#111" stroke="#111" stroke-width="0.35"><tspan font-style="italic" dx="-0.05em" letter-spacing="-0.05em">P</tspan><tspan font-size="103%">=0.0255</tspan></text>
<line x1="1898.2" y1="217.8" x2="1974.6" y2="217.8" stroke="#231f20" stroke-width="1.6" stroke-linecap="butt"/>
<text x="1839.7" y="313.6" font-size="24.6" text-anchor="middle" fill="#111" stroke="#111" stroke-width="0.35" transform="rotate(-90 1839.7 313.6)">Exo protein level</text>
<text x="1921" y="460.5" font-size="23.5" text-anchor="end" fill="#111" stroke="#111" stroke-width="0.35" transform="rotate(-45 1921 460.5)">0.5 kPa</text>
<text x="1994" y="459" font-size="23.5" text-anchor="end" fill="#111" stroke="#111" stroke-width="0.35" transform="rotate(-45 1994 459)">10 kPa</text>
</g>
<g id="pd">
<text x="-1.8" y="711.3" font-size="43" text-anchor="start" fill="#000" font-weight="bold">d</text>
<path d="M126.2 1228.3 V1140.4 H178.1 V1228.3" fill="#808086" stroke="#0a0a0a" stroke-width="4"/>
<path d="M210.7 1228.3 V983.3 H263.4 V1228.3" fill="#2b93aa" stroke="#0a0a0a" stroke-width="4"/>
<path d="M295.1 1228.3 V996.6 H347.8 V1228.3" fill="#2b93aa" stroke="#0a0a0a" stroke-width="4"/>
<path d="M380.2 1228.3 V1012.3 H432.9 V1228.3" fill="#2b93aa" stroke="#0a0a0a" stroke-width="4"/>
<line x1="94.8" y1="858.5" x2="94.8" y2="1230.3" stroke="#0a0a0a" stroke-width="3.6" stroke-linecap="butt"/>
<line x1="91.3" y1="1228.3" x2="465.2" y2="1228.3" stroke="#0a0a0a" stroke-width="4" stroke-linecap="butt"/>
<line x1="89.3" y1="1228.3" x2="94.8" y2="1228.3" stroke="#0a0a0a" stroke-width="2.4" stroke-linecap="butt"/>
<text x="88.9" y="1237.8" font-size="26.5" text-anchor="end" fill="#000" stroke="#000" stroke-width="0.35">0</text>
<line x1="89.3" y1="1136.3" x2="94.8" y2="1136.3" stroke="#0a0a0a" stroke-width="2.4" stroke-linecap="butt"/>
<text x="88.9" y="1145.8" font-size="26.5" text-anchor="end" fill="#000" stroke="#000" stroke-width="0.35">1</text>
<line x1="89.3" y1="1044.3" x2="94.8" y2="1044.3" stroke="#0a0a0a" stroke-width="2.4" stroke-linecap="butt"/>
<text x="88.9" y="1053.8" font-size="26.5" text-anchor="end" fill="#000" stroke="#000" stroke-width="0.35">2</text>
<line x1="89.3" y1="952.3" x2="94.8" y2="952.3" stroke="#0a0a0a" stroke-width="2.4" stroke-linecap="butt"/>
<text x="88.9" y="961.8" font-size="26.5" text-anchor="end" fill="#000" stroke="#000" stroke-width="0.35">3</text>
<line x1="89.3" y1="860.3" x2="94.8" y2="860.3" stroke="#0a0a0a" stroke-width="2.4" stroke-linecap="butt"/>
<text x="88.9" y="869.8" font-size="26.5" text-anchor="end" fill="#000" stroke="#000" stroke-width="0.35">4</text>
<line x1="151.7" y1="1228.3" x2="151.7" y2="1233.8" stroke="#0a0a0a" stroke-width="2.6" stroke-linecap="butt"/>
<text x="151.4" y="1266.5" font-size="27.6" text-anchor="middle" fill="#000" stroke="#000" stroke-width="0.35">0.5</text>
<line x1="236.4" y1="1228.3" x2="236.4" y2="1233.8" stroke="#0a0a0a" stroke-width="2.6" stroke-linecap="butt"/>
<text x="236.1" y="1266.5" font-size="27.6" text-anchor="middle" fill="#000" stroke="#000" stroke-width="0.35">5</text>
<line x1="321.5" y1="1228.3" x2="321.5" y2="1233.8" stroke="#0a0a0a" stroke-width="2.6" stroke-linecap="butt"/>
<text x="321.2" y="1266.5" font-size="27.6" text-anchor="middle" fill="#000" stroke="#000" stroke-width="0.35">10</text>
<line x1="406.5" y1="1228.3" x2="406.5" y2="1233.8" stroke="#0a0a0a" stroke-width="2.6" stroke-linecap="butt"/>
<text x="406.2" y="1266.5" font-size="27.6" text-anchor="middle" fill="#000" stroke="#000" stroke-width="0.35">20</text>
<text x="478.3" y="1266.5" font-size="28" text-anchor="start" fill="#000" stroke="#000" stroke-width="0.35">(kPa)</text>
<line x1="151.7" y1="1130.6" x2="151.7" y2="1140" stroke="#0a0a0a" stroke-width="3.5" stroke-linecap="butt"/>
<line x1="136.2" y1="1130.6" x2="167.2" y2="1130.6" stroke="#0a0a0a" stroke-width="3.5" stroke-linecap="butt"/>
<line x1="136.2" y1="1140" x2="167.2" y2="1140" stroke="#0a0a0a" stroke-width="3.5" stroke-linecap="butt"/>
<line x1="237" y1="945" x2="237" y2="1017.5" stroke="#0a0a0a" stroke-width="3.5" stroke-linecap="butt"/>
<line x1="221.5" y1="945" x2="252.5" y2="945" stroke="#0a0a0a" stroke-width="3.5" stroke-linecap="butt"/>
<line x1="221.5" y1="1017.5" x2="252.5" y2="1017.5" stroke="#0a0a0a" stroke-width="3.5" stroke-linecap="butt"/>
<line x1="321.5" y1="942.6" x2="321.5" y2="1046.7" stroke="#0a0a0a" stroke-width="3.5" stroke-linecap="butt"/>
<line x1="306" y1="942.6" x2="337" y2="942.6" stroke="#0a0a0a" stroke-width="3.5" stroke-linecap="butt"/>
<line x1="306" y1="1046.7" x2="337" y2="1046.7" stroke="#0a0a0a" stroke-width="3.5" stroke-linecap="butt"/>
<line x1="406.5" y1="992.5" x2="406.5" y2="1028.9" stroke="#0a0a0a" stroke-width="3.5" stroke-linecap="butt"/>
<line x1="391" y1="992.5" x2="422" y2="992.5" stroke="#0a0a0a" stroke-width="3.5" stroke-linecap="butt"/>
<line x1="391" y1="1028.9" x2="422" y2="1028.9" stroke="#0a0a0a" stroke-width="3.5" stroke-linecap="butt"/>
<circle cx="129.5" cy="1142.4" r="7.6" fill="#0a0a0a"/>
<circle cx="151.7" cy="1132.6" r="7.6" fill="#0a0a0a"/>
<circle cx="174.2" cy="1133.2" r="7.6" fill="#0a0a0a"/>
<circle cx="237" cy="948.9" r="7.6" fill="#0a0a0a"/>
<circle cx="237" cy="974.1" r="7.6" fill="#0a0a0a"/>
<circle cx="236.7" cy="1020.3" r="7.6" fill="#0a0a0a"/>
<circle cx="321.5" cy="958.3" r="7.6" fill="#0a0a0a"/>
<circle cx="321.5" cy="971.4" r="7.6" fill="#0a0a0a"/>
<circle cx="321.5" cy="1055" r="7.6" fill="#0a0a0a"/>
<circle cx="395.6" cy="1000.2" r="7.6" fill="#0a0a0a"/>
<circle cx="417.8" cy="1000.8" r="7.6" fill="#0a0a0a"/>
<circle cx="406.5" cy="1031.9" r="7.6" fill="#0a0a0a"/>
<text x="268.3" y="706" font-size="27.6" text-anchor="middle" fill="#000" stroke="#000" stroke-width="0.35">Hepa1-6</text>
<text x="225.2" y="778.5" font-size="27" text-anchor="start" fill="#000" stroke="#000" stroke-width="0.35"><tspan font-style="italic" dx="-0.05em" letter-spacing="-0.05em">P</tspan><tspan font-size="103%">=0.0003</tspan></text>
<line x1="144.3" y1="797.8" x2="418.7" y2="797.8" stroke="#231f20" stroke-width="3.5" stroke-linecap="butt"/>
<text x="192.6" y="843.7" font-size="27" text-anchor="start" fill="#000" stroke="#000" stroke-width="0.35"><tspan font-style="italic" dx="-0.05em" letter-spacing="-0.05em">P</tspan><tspan font-size="103%">=0.0094</tspan></text>
<line x1="139.9" y1="858.5" x2="340.1" y2="858.5" stroke="#231f20" stroke-width="3.5" stroke-linecap="butt"/>
<text x="145.8" y="905.9" font-size="27" text-anchor="start" fill="#000" stroke="#000" stroke-width="0.35"><tspan font-style="italic" dx="-0.05em" letter-spacing="-0.05em">P</tspan><tspan font-size="103%">=0.0018</tspan></text>
<line x1="142.2" y1="928.1" x2="240" y2="928.1" stroke="#231f20" stroke-width="3.5" stroke-linecap="butt"/>
<text x="54.8" y="1039.5" font-size="28.25" text-anchor="middle" fill="#000" stroke="#000" stroke-width="0.35" transform="rotate(-90 54.8 1039.5)">Relative exosome secretion</text>
</g>
<g id="pe">
<text x="626.5" y="705.9" font-size="43" text-anchor="start" fill="#000" font-weight="bold">e</text>
<clipPath id="cpe"><rect x="743.2" y="780" width="600" height="402"/></clipPath>
<g clip-path="url(#cpe)">
<line x1="881.38" y1="1148.3" x2="881.38" y2="1166.7" stroke="#2a5caa" stroke-width="2.1" stroke-linecap="butt"/>
<line x1="872.88" y1="1148.3" x2="889.88" y2="1148.3" stroke="#2a5caa" stroke-width="2.1" stroke-linecap="butt"/>
<line x1="872.88" y1="1166.7" x2="889.88" y2="1166.7" stroke="#2a5caa" stroke-width="2.1" stroke-linecap="butt"/>
<line x1="927.44" y1="1126.1" x2="927.44" y2="1154.9" stroke="#2a5caa" stroke-width="2.1" stroke-linecap="butt"/>
<line x1="918.94" y1="1126.1" x2="935.94" y2="1126.1" stroke="#2a5caa" stroke-width="2.1" stroke-linecap="butt"/>
<line x1="918.94" y1="1154.9" x2="935.94" y2="1154.9" stroke="#2a5caa" stroke-width="2.1" stroke-linecap="butt"/>
<line x1="973.5" y1="1094.7" x2="973.5" y2="1148" stroke="#2a5caa" stroke-width="2.1" stroke-linecap="butt"/>
<line x1="965" y1="1094.7" x2="982" y2="1094.7" stroke="#2a5caa" stroke-width="2.1" stroke-linecap="butt"/>
<line x1="965" y1="1148" x2="982" y2="1148" stroke="#2a5caa" stroke-width="2.1" stroke-linecap="butt"/>
<line x1="1019.56" y1="1068.3" x2="1019.56" y2="1134.7" stroke="#2a5caa" stroke-width="2.1" stroke-linecap="butt"/>
<line x1="1011.06" y1="1068.3" x2="1028.06" y2="1068.3" stroke="#2a5caa" stroke-width="2.1" stroke-linecap="butt"/>
<line x1="1011.06" y1="1134.7" x2="1028.06" y2="1134.7" stroke="#2a5caa" stroke-width="2.1" stroke-linecap="butt"/>
<line x1="1065.62" y1="1036.9" x2="1065.62" y2="1124.6" stroke="#2a5caa" stroke-width="2.1" stroke-linecap="butt"/>
<line x1="1057.12" y1="1036.9" x2="1074.12" y2="1036.9" stroke="#2a5caa" stroke-width="2.1" stroke-linecap="butt"/>
<line x1="1057.12" y1="1124.6" x2="1074.12" y2="1124.6" stroke="#2a5caa" stroke-width="2.1" stroke-linecap="butt"/>
<line x1="1111.68" y1="1012.5" x2="1111.68" y2="1106.7" stroke="#2a5caa" stroke-width="2.1" stroke-linecap="butt"/>
<line x1="1103.18" y1="1012.5" x2="1120.18" y2="1012.5" stroke="#2a5caa" stroke-width="2.1" stroke-linecap="butt"/>
<line x1="1103.18" y1="1106.7" x2="1120.18" y2="1106.7" stroke="#2a5caa" stroke-width="2.1" stroke-linecap="butt"/>
<line x1="1157.74" y1="982" x2="1157.74" y2="1077.5" stroke="#2a5caa" stroke-width="2.1" stroke-linecap="butt"/>
<line x1="1149.24" y1="982" x2="1166.24" y2="982" stroke="#2a5caa" stroke-width="2.1" stroke-linecap="butt"/>
<line x1="1149.24" y1="1077.5" x2="1166.24" y2="1077.5" stroke="#2a5caa" stroke-width="2.1" stroke-linecap="butt"/>
<line x1="1203.8" y1="962.5" x2="1203.8" y2="1035.5" stroke="#2a5caa" stroke-width="2.1" stroke-linecap="butt"/>
<line x1="1195.3" y1="962.5" x2="1212.3" y2="962.5" stroke="#2a5caa" stroke-width="2.1" stroke-linecap="butt"/>
<line x1="1195.3" y1="1035.5" x2="1212.3" y2="1035.5" stroke="#2a5caa" stroke-width="2.1" stroke-linecap="butt"/>
<line x1="1249.86" y1="870.2" x2="1249.86" y2="972.5" stroke="#2a5caa" stroke-width="2.1" stroke-linecap="butt"/>
<line x1="1241.36" y1="870.2" x2="1258.36" y2="870.2" stroke="#2a5caa" stroke-width="2.1" stroke-linecap="butt"/>
<line x1="1241.36" y1="972.5" x2="1258.36" y2="972.5" stroke="#2a5caa" stroke-width="2.1" stroke-linecap="butt"/>
<polyline points="743.2,1177.5 789.26,1177.5 835.32,1173 881.38,1157.2 927.44,1140 973.5,1121.4 1019.56,1101.5 1065.62,1081.4 1111.68,1059.3 1157.74,1030 1203.8,999.5 1249.86,921.1" fill="none" stroke="#2a5caa" stroke-width="2.2"/>
<rect x="734.4" y="1168.7" width="17.6" height="17.6" fill="#2a5caa"/>
<rect x="780.46" y="1168.7" width="17.6" height="17.6" fill="#2a5caa"/>
<rect x="826.52" y="1164.2" width="17.6" height="17.6" fill="#2a5caa"/>
<rect x="872.58" y="1148.4" width="17.6" height="17.6" fill="#2a5caa"/>
<rect x="918.64" y="1131.2" width="17.6" height="17.6" fill="#2a5caa"/>
<rect x="964.7" y="1112.6" width="17.6" height="17.6" fill="#2a5caa"/>
<rect x="1010.76" y="1092.7" width="17.6" height="17.6" fill="#2a5caa"/>
<rect x="1056.82" y="1072.6" width="17.6" height="17.6" fill="#2a5caa"/>
<rect x="1102.88" y="1050.5" width="17.6" height="17.6" fill="#2a5caa"/>
<rect x="1148.94" y="1021.2" width="17.6" height="17.6" fill="#2a5caa"/>
<rect x="1195" y="990.7" width="17.6" height="17.6" fill="#2a5caa"/>
<rect x="1241.06" y="912.3" width="17.6" height="17.6" fill="#2a5caa"/>
<line x1="973.5" y1="1148.9" x2="973.5" y2="1166" stroke="#e8252a" stroke-width="2.1" stroke-linecap="butt"/>
<line x1="965" y1="1148.9" x2="982" y2="1148.9" stroke="#e8252a" stroke-width="2.1" stroke-linecap="butt"/>
<line x1="965" y1="1166" x2="982" y2="1166" stroke="#e8252a" stroke-width="2.1" stroke-linecap="butt"/>
<line x1="1019.56" y1="1143.9" x2="1019.56" y2="1163" stroke="#e8252a" stroke-width="2.1" stroke-linecap="butt"/>
<line x1="1011.06" y1="1143.9" x2="1028.06" y2="1143.9" stroke="#e8252a" stroke-width="2.1" stroke-linecap="butt"/>
<line x1="1011.06" y1="1163" x2="1028.06" y2="1163" stroke="#e8252a" stroke-width="2.1" stroke-linecap="butt"/>
<line x1="1065.62" y1="1140" x2="1065.62" y2="1161" stroke="#e8252a" stroke-width="2.1" stroke-linecap="butt"/>
<line x1="1057.12" y1="1140" x2="1074.12" y2="1140" stroke="#e8252a" stroke-width="2.1" stroke-linecap="butt"/>
<line x1="1057.12" y1="1161" x2="1074.12" y2="1161" stroke="#e8252a" stroke-width="2.1" stroke-linecap="butt"/>
<line x1="1111.68" y1="1120.8" x2="1111.68" y2="1156.3" stroke="#e8252a" stroke-width="2.1" stroke-linecap="butt"/>
<line x1="1103.18" y1="1120.8" x2="1120.18" y2="1120.8" stroke="#e8252a" stroke-width="2.1" stroke-linecap="butt"/>
<line x1="1103.18" y1="1156.3" x2="1120.18" y2="1156.3" stroke="#e8252a" stroke-width="2.1" stroke-linecap="butt"/>
<line x1="1157.74" y1="1087.6" x2="1157.74" y2="1138" stroke="#e8252a" stroke-width="2.1" stroke-linecap="butt"/>
<line x1="1149.24" y1="1087.6" x2="1166.24" y2="1087.6" stroke="#e8252a" stroke-width="2.1" stroke-linecap="butt"/>
<line x1="1149.24" y1="1138" x2="1166.24" y2="1138" stroke="#e8252a" stroke-width="2.1" stroke-linecap="butt"/>
<line x1="1203.8" y1="1058.8" x2="1203.8" y2="1117" stroke="#e8252a" stroke-width="2.1" stroke-linecap="butt"/>
<line x1="1195.3" y1="1058.8" x2="1212.3" y2="1058.8" stroke="#e8252a" stroke-width="2.1" stroke-linecap="butt"/>
<line x1="1195.3" y1="1117" x2="1212.3" y2="1117" stroke="#e8252a" stroke-width="2.1" stroke-linecap="butt"/>
<line x1="1249.86" y1="1016.8" x2="1249.86" y2="1079.9" stroke="#e8252a" stroke-width="2.1" stroke-linecap="butt"/>
<line x1="1241.36" y1="1016.8" x2="1258.36" y2="1016.8" stroke="#e8252a" stroke-width="2.1" stroke-linecap="butt"/>
<line x1="1241.36" y1="1079.9" x2="1258.36" y2="1079.9" stroke="#e8252a" stroke-width="2.1" stroke-linecap="butt"/>
<polyline points="743.2,1179 789.26,1179 835.32,1177 881.38,1173.2 927.44,1167.6 973.5,1157.2 1019.56,1153.4 1065.62,1150.4 1111.68,1137.1 1157.74,1112.5 1203.8,1089 1249.86,1047.7" fill="none" stroke="#e8252a" stroke-width="2.2"/>
<polygon points="743.2,1170 734.5,1186.2 751.9,1186.2" fill="#e8252a"/>
<polygon points="789.26,1170 780.56,1186.2 797.96,1186.2" fill="#e8252a"/>
<polygon points="835.32,1168 826.62,1184.2 844.02,1184.2" fill="#e8252a"/>
<polygon points="881.38,1164.2 872.68,1180.4 890.08,1180.4" fill="#e8252a"/>
<polygon points="927.44,1158.6 918.74,1174.8 936.14,1174.8" fill="#e8252a"/>
<polygon points="973.5,1148.2 964.8,1164.4 982.2,1164.4" fill="#e8252a"/>
<polygon points="1019.56,1144.4 1010.86,1160.6 1028.26,1160.6" fill="#e8252a"/>
<polygon points="1065.62,1141.4 1056.92,1157.6 1074.32,1157.6" fill="#e8252a"/>
<polygon points="1111.68,1128.1 1102.98,1144.3 1120.38,1144.3" fill="#e8252a"/>
<polygon points="1157.74,1103.5 1149.04,1119.7 1166.44,1119.7" fill="#e8252a"/>
<polygon points="1203.8,1080 1195.1,1096.2 1212.5,1096.2" fill="#e8252a"/>
<polygon points="1249.86,1038.7 1241.16,1054.9 1258.56,1054.9" fill="#e8252a"/>
<line x1="973.5" y1="1156.9" x2="973.5" y2="1174.1" stroke="#0a0a0a" stroke-width="2.1" stroke-linecap="butt"/>
<line x1="965" y1="1156.9" x2="982" y2="1156.9" stroke="#0a0a0a" stroke-width="2.1" stroke-linecap="butt"/>
<line x1="965" y1="1174.1" x2="982" y2="1174.1" stroke="#0a0a0a" stroke-width="2.1" stroke-linecap="butt"/>
<line x1="1019.56" y1="1150.4" x2="1019.56" y2="1171.1" stroke="#0a0a0a" stroke-width="2.1" stroke-linecap="butt"/>
<line x1="1011.06" y1="1150.4" x2="1028.06" y2="1150.4" stroke="#0a0a0a" stroke-width="2.1" stroke-linecap="butt"/>
<line x1="1011.06" y1="1171.1" x2="1028.06" y2="1171.1" stroke="#0a0a0a" stroke-width="2.1" stroke-linecap="butt"/>
<line x1="1065.62" y1="1146.6" x2="1065.62" y2="1168.8" stroke="#0a0a0a" stroke-width="2.1" stroke-linecap="butt"/>
<line x1="1057.12" y1="1146.6" x2="1074.12" y2="1146.6" stroke="#0a0a0a" stroke-width="2.1" stroke-linecap="butt"/>
<line x1="1057.12" y1="1168.8" x2="1074.12" y2="1168.8" stroke="#0a0a0a" stroke-width="2.1" stroke-linecap="butt"/>
<line x1="1111.68" y1="1132.2" x2="1111.68" y2="1155.4" stroke="#0a0a0a" stroke-width="2.1" stroke-linecap="butt"/>
<line x1="1103.18" y1="1132.2" x2="1120.18" y2="1132.2" stroke="#0a0a0a" stroke-width="2.1" stroke-linecap="butt"/>
<line x1="1103.18" y1="1155.4" x2="1120.18" y2="1155.4" stroke="#0a0a0a" stroke-width="2.1" stroke-linecap="butt"/>
<line x1="1157.74" y1="1112.4" x2="1157.74" y2="1144.5" stroke="#0a0a0a" stroke-width="2.1" stroke-linecap="butt"/>
<line x1="1149.24" y1="1112.4" x2="1166.24" y2="1112.4" stroke="#0a0a0a" stroke-width="2.1" stroke-linecap="butt"/>
<line x1="1149.24" y1="1144.5" x2="1166.24" y2="1144.5" stroke="#0a0a0a" stroke-width="2.1" stroke-linecap="butt"/>
<line x1="1203.8" y1="1089.7" x2="1203.8" y2="1117.9" stroke="#0a0a0a" stroke-width="2.1" stroke-linecap="butt"/>
<line x1="1195.3" y1="1089.7" x2="1212.3" y2="1089.7" stroke="#0a0a0a" stroke-width="2.1" stroke-linecap="butt"/>
<line x1="1195.3" y1="1117.9" x2="1212.3" y2="1117.9" stroke="#0a0a0a" stroke-width="2.1" stroke-linecap="butt"/>
<line x1="1249.86" y1="1056.4" x2="1249.86" y2="1087.7" stroke="#0a0a0a" stroke-width="2.1" stroke-linecap="butt"/>
<line x1="1241.36" y1="1056.4" x2="1258.36" y2="1056.4" stroke="#0a0a0a" stroke-width="2.1" stroke-linecap="butt"/>
<line x1="1241.36" y1="1087.7" x2="1258.36" y2="1087.7" stroke="#0a0a0a" stroke-width="2.1" stroke-linecap="butt"/>
<polyline points="743.2,1178.6 789.26,1178.6 835.32,1176.2 881.38,1174.1 927.44,1169.7 973.5,1164.6 1019.56,1160.8 1065.62,1157.8 1111.68,1144.2 1157.74,1128.2 1203.8,1103.6 1249.86,1071.3" fill="none" stroke="#0a0a0a" stroke-width="2.2"/>
<circle cx="743.2" cy="1178.6" r="8.8" fill="#0a0a0a"/>
<circle cx="789.26" cy="1178.6" r="8.8" fill="#0a0a0a"/>
<circle cx="835.32" cy="1176.2" r="8.8" fill="#0a0a0a"/>
<circle cx="881.38" cy="1174.1" r="8.8" fill="#0a0a0a"/>
<circle cx="927.44" cy="1169.7" r="8.8" fill="#0a0a0a"/>
<circle cx="973.5" cy="1164.6" r="8.8" fill="#0a0a0a"/>
<circle cx="1019.56" cy="1160.8" r="8.8" fill="#0a0a0a"/>
<circle cx="1065.62" cy="1157.8" r="8.8" fill="#0a0a0a"/>
<circle cx="1111.68" cy="1144.2" r="8.8" fill="#0a0a0a"/>
<circle cx="1157.74" cy="1128.2" r="8.8" fill="#0a0a0a"/>
<circle cx="1203.8" cy="1103.6" r="8.8" fill="#0a0a0a"/>
<circle cx="1249.86" cy="1071.3" r="8.8" fill="#0a0a0a"/>
</g>
<line x1="743.2" y1="795" x2="743.2" y2="1181.6" stroke="#0a0a0a" stroke-width="2.4" stroke-linecap="butt"/>
<line x1="726.3" y1="1181.6" x2="1320.5" y2="1181.6" stroke="#0a0a0a" stroke-width="2.4" stroke-linecap="butt"/>
<line x1="726.3" y1="1181.6" x2="743.2" y2="1181.6" stroke="#0a0a0a" stroke-width="2.4" stroke-linecap="butt"/>
<text x="721.3" y="1191.8" font-size="28.5" text-anchor="end" fill="#000" stroke="#000" stroke-width="0.35">0</text>
<line x1="726.3" y1="1104.55" x2="743.2" y2="1104.55" stroke="#0a0a0a" stroke-width="2.4" stroke-linecap="butt"/>
<text x="721.3" y="1114.75" font-size="28.5" text-anchor="end" fill="#000" stroke="#000" stroke-width="0.35">500</text>
<line x1="726.3" y1="1027.5" x2="743.2" y2="1027.5" stroke="#0a0a0a" stroke-width="2.4" stroke-linecap="butt"/>
<text x="721.3" y="1037.7" font-size="28.5" text-anchor="end" fill="#000" stroke="#000" stroke-width="0.35">1000</text>
<line x1="726.3" y1="950.45" x2="743.2" y2="950.45" stroke="#0a0a0a" stroke-width="2.4" stroke-linecap="butt"/>
<text x="721.3" y="960.65" font-size="28.5" text-anchor="end" fill="#000" stroke="#000" stroke-width="0.35">1500</text>
<line x1="726.3" y1="873.4" x2="743.2" y2="873.4" stroke="#0a0a0a" stroke-width="2.4" stroke-linecap="butt"/>
<text x="721.3" y="883.6" font-size="28.5" text-anchor="end" fill="#000" stroke="#000" stroke-width="0.35">2000</text>
<line x1="726.3" y1="796.35" x2="743.2" y2="796.35" stroke="#0a0a0a" stroke-width="2.4" stroke-linecap="butt"/>
<text x="721.3" y="806.55" font-size="28.5" text-anchor="end" fill="#000" stroke="#000" stroke-width="0.35">2500</text>
<line x1="743.2" y1="1181.6" x2="743.2" y2="1198.7" stroke="#0a0a0a" stroke-width="2.4" stroke-linecap="butt"/>
<text x="743.2" y="1228.6" font-size="28.3" text-anchor="middle" fill="#000" stroke="#000" stroke-width="0.35">5</text>
<line x1="858.35" y1="1181.6" x2="858.35" y2="1198.7" stroke="#0a0a0a" stroke-width="2.4" stroke-linecap="butt"/>
<text x="858.35" y="1228.6" font-size="28.3" text-anchor="middle" fill="#000" stroke="#000" stroke-width="0.35">10</text>
<line x1="973.5" y1="1181.6" x2="973.5" y2="1198.7" stroke="#0a0a0a" stroke-width="2.4" stroke-linecap="butt"/>
<text x="973.5" y="1228.6" font-size="28.3" text-anchor="middle" fill="#000" stroke="#000" stroke-width="0.35">15</text>
<line x1="1088.65" y1="1181.6" x2="1088.65" y2="1198.7" stroke="#0a0a0a" stroke-width="2.4" stroke-linecap="butt"/>
<text x="1088.65" y="1228.6" font-size="28.3" text-anchor="middle" fill="#000" stroke="#000" stroke-width="0.35">20</text>
<line x1="1203.8" y1="1181.6" x2="1203.8" y2="1198.7" stroke="#0a0a0a" stroke-width="2.4" stroke-linecap="butt"/>
<text x="1203.8" y="1228.6" font-size="28.3" text-anchor="middle" fill="#000" stroke="#000" stroke-width="0.35">25</text>
<line x1="1318.95" y1="1181.6" x2="1318.95" y2="1198.7" stroke="#0a0a0a" stroke-width="2.4" stroke-linecap="butt"/>
<text x="1318.95" y="1228.6" font-size="28.3" text-anchor="middle" fill="#000" stroke="#000" stroke-width="0.35">30</text>
<line x1="800.78" y1="1181.6" x2="800.78" y2="1191" stroke="#0a0a0a" stroke-width="2.4" stroke-linecap="butt"/>
<line x1="915.93" y1="1181.6" x2="915.93" y2="1191" stroke="#0a0a0a" stroke-width="2.4" stroke-linecap="butt"/>
<line x1="1031.08" y1="1181.6" x2="1031.08" y2="1191" stroke="#0a0a0a" stroke-width="2.4" stroke-linecap="butt"/>
<line x1="1146.23" y1="1181.6" x2="1146.23" y2="1191" stroke="#0a0a0a" stroke-width="2.4" stroke-linecap="butt"/>
<line x1="1261.38" y1="1181.6" x2="1261.38" y2="1191" stroke="#0a0a0a" stroke-width="2.4" stroke-linecap="butt"/>
<text x="1031" y="1274.9" font-size="31" text-anchor="middle" fill="#000" stroke="#000" stroke-width="0.35">Days</text>
<text x="635.9" y="988.4" font-size="32" text-anchor="middle" fill="#000" stroke="#000" stroke-width="0.35" transform="rotate(-90 635.9 988.4)">Tumor volume (mm<tspan font-size="23.5" dy="-13">3</tspan><tspan dy="13">)</tspan></text>
<line x1="840.4" y1="833.1" x2="883.3" y2="833.1" stroke="#0a0a0a" stroke-width="2.2" stroke-linecap="butt"/>
<circle cx="861.4" cy="833.1" r="8.8" fill="#0a0a0a"/>
<text x="905.3" y="843.3" font-size="31.6" text-anchor="start" fill="#000" stroke="#000" stroke-width="0.35">PBS</text>
<line x1="840.4" y1="889" x2="883.3" y2="889" stroke="#2a5caa" stroke-width="2.2" stroke-linecap="butt"/>
<rect x="852.6" y="880.2" width="17.6" height="17.6" fill="#2a5caa"/>
<text x="905.5" y="903" font-size="31.2" text-anchor="start" fill="#000" stroke="#000" stroke-width="0.35">Exo<tspan font-size="23.8" dy="-13.6">DMSO</tspan></text>
<line x1="840.4" y1="949.2" x2="883.3" y2="949.2" stroke="#e8252a" stroke-width="2.2" stroke-linecap="butt"/>
<polygon points="861.6,940.8 852.8,957.8 870.4,957.8" fill="#e8252a"/>
<text x="905.5" y="963.2" font-size="31.2" text-anchor="start" fill="#000" stroke="#000" stroke-width="0.35">Exo<tspan font-size="23.8" dy="-13.8">MK-2206</tspan></text>
<polyline points="1270.3,918.8 1291.6,918.8 1291.6,1051.3 1270.3,1051.3" fill="none" stroke="#0a0a0a" stroke-width="2.2"/>
<polyline points="1303.6,1051.3 1324.4,1051.3 1324.4,1073.2 1303.6,1073.2" fill="none" stroke="#0a0a0a" stroke-width="2.2"/>
<text x="1297" y="985" font-size="31" text-anchor="start" fill="#000" stroke="#000" stroke-width="0.35"><tspan font-style="italic">P</tspan><tspan dx="4.5">=0.0016</tspan></text>
<text x="1334" y="1071.3" font-size="30.5" text-anchor="start" fill="#000" stroke="#000" stroke-width="0.35"><tspan font-style="italic" dx="-0.05em" letter-spacing="-0.05em">P</tspan><tspan font-size="103%">=0.2233</tspan></text>
</g>
</svg>
</body></html>
